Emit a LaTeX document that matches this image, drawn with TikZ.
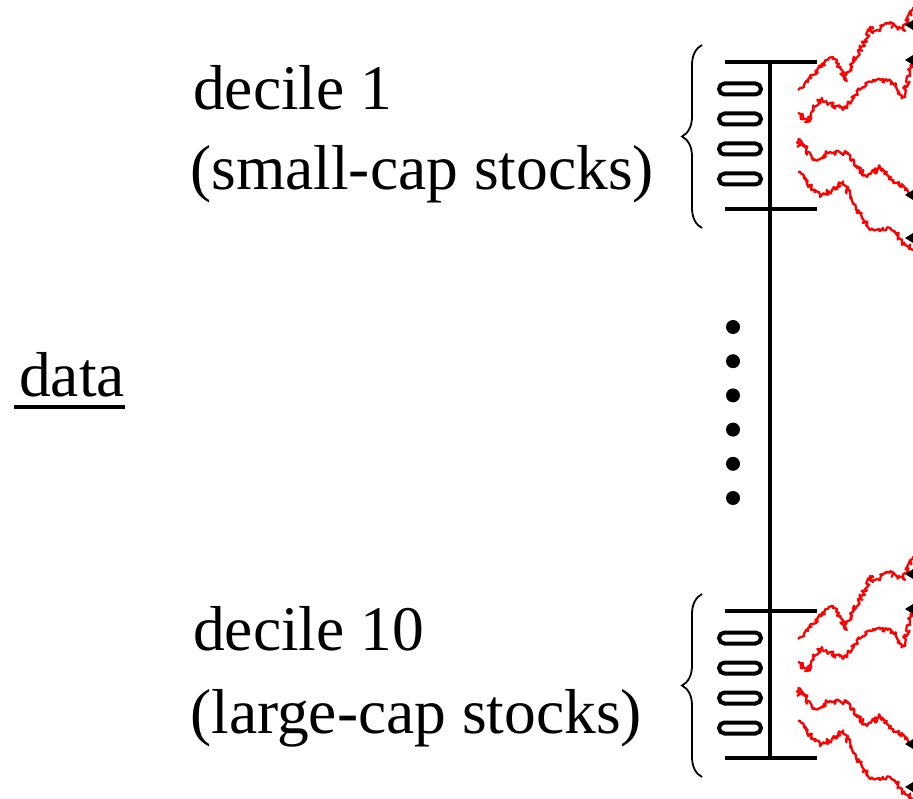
\documentclass[tikz,border=0pt]{standalone}
\usepackage{fontspec}
\setmainfont{Liberation Serif}
\usetikzlibrary{decorations.pathreplacing,decorations.pathmorphing}
\tikzset{
  lbl/.style={anchor=base west, inner sep=0pt, font=\fontsize{63.5}{76}\selectfont},
  bar/.style={line width=4pt},
  slot/.style={draw, line width=4pt, rounded corners=5.5pt, minimum width=42pt, minimum height=11pt, inner sep=0pt},
  walk/.style={draw=red, line width=2.3pt, line join=round, decorate,
    decoration={random steps, segment length=1.6pt, amplitude=2.6pt}},
  tipmark/.style={fill=black},
  dotmark/.style={circle, fill=black, minimum size=14pt, inner sep=0pt},
  bracestyle/.style={decorate, decoration={brace, amplitude=20pt}, line width=1.8pt},
}
\newcommand\drawdecile[1]{%
  \pgfmathsetseed{11}%
  \coordinate (#1bl) at (725,62); \coordinate (#1br) at (817,62);
  \coordinate (#1cl) at (725,209); \coordinate (#1cr) at (817,209);
  \draw[bar] (#1bl) -- (#1br);
  \draw[bar] (#1cl) -- (#1cr);
  \foreach \i/\yy in {1/89,2/119,3/149,4/179} \node[slot] (#1s\i) at (740,\yy) {};
  \coordinate (#1brA) at (702,228); \coordinate (#1brB) at (702,45);
  \draw[bracestyle] (#1brA) -- (#1brB);
  \draw[walk] (798,90) -- (808,82) -- (817,70) -- (825,62) -- (833,57) -- (840,68) -- (845,80) -- (853,60) -- (860,50) -- (865,40) -- (870,27) -- (873,33) -- (887,23) -- (903,30) -- (907,23) -- (913,8) -- (918,0);
  \draw[walk] (798,113) -- (807,122) -- (813,110) -- (820,100) -- (830,103) -- (843,110) -- (855,95) -- (863,87) -- (873,80) -- (890,80) -- (903,97) -- (910,70) -- (916,60);
  \draw[walk] (797,147) -- (800,140) -- (813,160) -- (830,152) -- (847,153) -- (857,168) -- (867,177) -- (880,167) -- (893,180) -- (905,190) -- (916,200);
  \draw[walk] (798,172) -- (810,185) -- (820,197) -- (832,190) -- (843,182) -- (855,205) -- (870,230) -- (883,228) -- (895,232) -- (905,245) -- (916,250);
  \foreach \ty in {25,60,195,238} \fill[tipmark] (905,\ty) -- (918,\ty-8) -- (918,\ty+8) -- cycle;
}
\begin{document}
\begin{tikzpicture}[x=1pt,y=-1pt]
  \useasboundingbox (0,0) rectangle (913,799);
  \clip (0,0) rectangle (913,799);
  % data label
  \node[lbl] (data) at (19,397) {data};
  \draw[line width=4pt] ([xshift=-5pt,yshift=-10pt]data.base west) -- ([xshift=0pt,yshift=-10pt]data.base east);
  % decile labels
  \node[lbl] (d1a) at (193,110) {decile 1};
  \node[lbl] (d1b) at (190,190) {(small-cap stocks)};
  \node[lbl] (d10a) at (193,650) {decile 10};
  \node[lbl] (d10b) at (190,733) {(large-cap stocks)};
  % groups
  \drawdecile{g1}
  \begin{scope}[shift={(0,549)}]
    \drawdecile{g2}
  \end{scope}
  % main vertical line
  \draw[bar] (g1bl -| 770,0) -- (g2cl -| 770,0);
  % dots
  \foreach \k in {0,...,5} \node[dotmark] (dot\k) at (733,{327+34.2*\k}) {};
\end{tikzpicture}
\end{document}
